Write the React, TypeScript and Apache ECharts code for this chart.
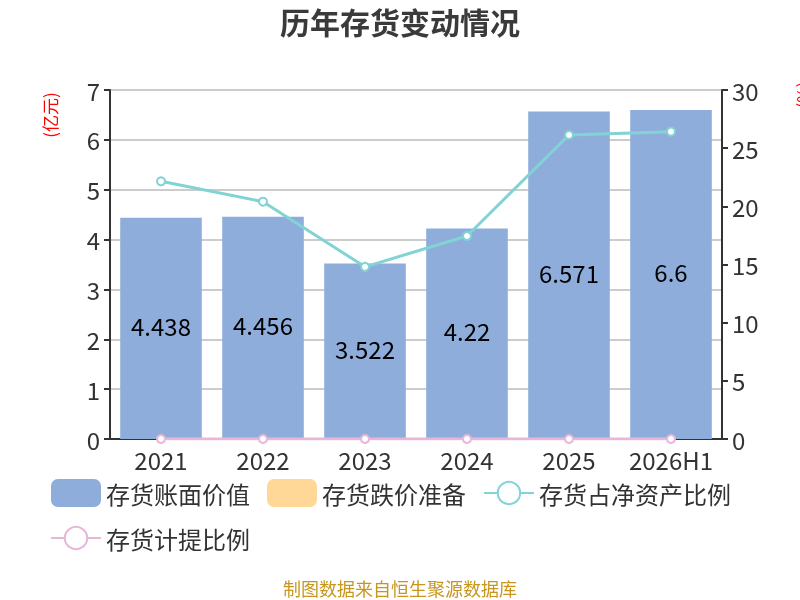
import { useEffect, useRef } from 'react';
import * as echarts from 'echarts';

const years = ['2021', '2022', '2023', '2024', '2025', '2026H1'];
const bookValue = [4.438, 4.456, 3.522, 4.22, 6.571, 6.6];
const impairment = [0, 0, 0, 0, 0, 0];
const netAssetRatio = [22.15, 20.4, 14.8, 17.45, 26.13, 26.42];
const provisionRatio = [0, 0, 0, 0, 0, 0];

const FONT = '"Noto Sans CJK SC", "Noto Sans", sans-serif';

const App = () => {
  const chartRef = useRef<HTMLDivElement>(null);

  useEffect(() => {
    if (!chartRef.current) return;
    const chart = echarts.init(chartRef.current, undefined, { renderer: 'svg' });

    chart.setOption({
      animation: false,
      textStyle: { fontFamily: FONT },
      title: {
        text: '历年存货变动情况',
        left: 'center',
        top: 1,
        textStyle: { fontSize: 30, fontWeight: 'bold', color: '#3a3a3a', fontFamily: FONT }
      },
      grid: { left: 110, right: 78, top: 90, bottom: 161 },
      legend: {
        left: 45,
        top: 474,
        width: 740,
        itemWidth: 50,
        itemHeight: 28,
        itemGap: 17,
        textStyle: { fontSize: 24, color: '#333', fontFamily: FONT },
        data: [
          { name: '存货账面价值', icon: 'roundRect' },
          { name: '存货跌价准备', icon: 'roundRect' },
          '存货占净资产比例',
          '存货计提比例'
        ]
      },
      graphic: [
        {
          type: 'text',
          x: 49,
          y: 115,
          rotation: Math.PI / 2,
          style: {
            text: '(亿元)',
            fill: '#ff0000',
            fontSize: 17,
            fontFamily: FONT,
            align: 'center',
            verticalAlign: 'middle'
          }
        },
        {
          type: 'text',
          x: 802,
          y: 95,
          rotation: Math.PI / 2,
          style: {
            text: '(%)',
            fill: '#ff0000',
            fontSize: 17,
            fontFamily: FONT,
            align: 'center',
            verticalAlign: 'middle'
          }
        },
        {
          type: 'text',
          x: 400,
          y: 588,
          style: {
            text: '制图数据来自恒生聚源数据库',
            fill: '#c8961e',
            fontSize: 18,
            fontFamily: FONT,
            align: 'center',
            verticalAlign: 'middle'
          }
        }
      ],
      xAxis: {
        type: 'category',
        data: years,
        axisLine: { lineStyle: { color: '#333', width: 2 } },
        axisTick: { lineStyle: { color: '#333', width: 2 }, length: 6 },
        axisLabel: { fontSize: 24, color: '#333', margin: 8, interval: 0 }
      },
      yAxis: [
        {
          type: 'value',
          min: 0,
          max: 7,
          interval: 1,
          axisLine: { show: true, lineStyle: { color: '#333', width: 2 } },
          axisTick: { show: true, lineStyle: { color: '#333', width: 2 }, length: 6 },
          axisLabel: { fontSize: 24, color: '#333', margin: 10 },
          splitLine: { lineStyle: { color: '#cccccc', width: 2 } }
        },
        {
          type: 'value',
          min: 0,
          max: 30,
          interval: 5,
          axisLine: { show: true, lineStyle: { color: '#333', width: 2 } },
          axisTick: { show: true, lineStyle: { color: '#333', width: 2 }, length: 6 },
          axisLabel: { fontSize: 24, color: '#333', margin: 10 },
          splitLine: { show: false }
        }
      ],
      series: [
        {
          name: '存货账面价值',
          type: 'bar',
          data: bookValue,
          barCategoryGap: '20%',
          barGap: '-100%',
          itemStyle: { color: '#8eaddb' },
          label: {
            show: true,
            position: 'inside',
            offset: [0, -3],
            fontSize: 24,
            color: '#000',
            fontFamily: FONT
          }
        },
        {
          name: '存货跌价准备',
          type: 'bar',
          data: impairment,
          barCategoryGap: '20%',
          barGap: '-100%',
          itemStyle: { color: '#ffd898' }
        },
        {
          name: '存货占净资产比例',
          type: 'line',
          yAxisIndex: 1,
          data: netAssetRatio,
          symbol: 'emptyCircle',
          symbolSize: 8,
          lineStyle: { color: '#82d3d4', width: 3 },
          itemStyle: { color: '#82d3d4', borderWidth: 2 }
        },
        {
          name: '存货计提比例',
          type: 'line',
          yAxisIndex: 1,
          data: provisionRatio,
          symbol: 'emptyCircle',
          symbolSize: 8,
          lineStyle: { color: '#e8b6d9', width: 3 },
          itemStyle: { color: '#e8b6d9', borderWidth: 2 }
        }
      ]
    });

    return () => {
      chart.dispose();
    };
  }, []);

  return (
    <div
      ref={chartRef}
      style={{ position: 'fixed', left: 0, top: 0, width: 800, height: 600 }}
    />
  );
};

export default App;
